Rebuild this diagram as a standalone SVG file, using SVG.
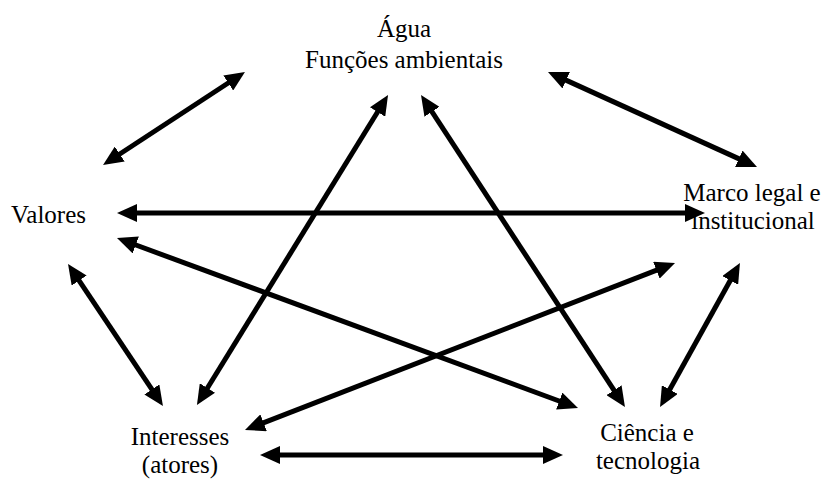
<svg xmlns="http://www.w3.org/2000/svg" width="830" height="479" viewBox="0 0 830 479">
<style>
.t{font-family:"Liberation Serif","Times New Roman",serif;font-size:25px;fill:#000}
.c{text-anchor:middle}
.e{fill:none;stroke:#000;stroke-width:5;marker-start:url(#ah);marker-end:url(#ah)}
</style>
<defs>
<marker id="ah" viewBox="0 0 20 18" refX="10" refY="9" markerWidth="20" markerHeight="18" markerUnits="userSpaceOnUse" orient="auto-start-reverse">
<path d="M0,0 L20,9 L0,18 z" fill="#000"/>
</marker>
</defs>
<rect width="830" height="479" fill="#fff"/>
<g id="agua"><text class="t c" x="404" y="37">Água</text><text class="t c" x="404" y="68">Funções ambientais</text></g>
<g id="valores"><text class="t" x="11" y="223">Valores</text></g>
<g id="marco"><text class="t c" x="752" y="201">Marco legal e</text><text class="t c" x="753" y="229">institucional</text></g>
<g id="interesses"><text class="t c" x="180" y="445">Interesses</text><text class="t c" x="180" y="473">(atores)</text></g>
<g id="ciencia"><text class="t c" x="647" y="441">Ciência e</text><text class="t c" x="648" y="469">tecnologia</text></g>
<g id="connectors">
<path class="e" d="M111.4,159.5 L236.6,77.5"/>
<path class="e" d="M557.1,76.1 L747.9,162.9"/>
<path class="e" d="M127,213 L695,213"/>
<path class="e" d="M126.4,241.5 L568.6,404.5"/>
<path class="e" d="M73.6,272.3 L157.4,397.7"/>
<path class="e" d="M202.2,396.5 L382.8,103.5"/>
<path class="e" d="M426.5,103.4 L619.5,398.6"/>
<path class="e" d="M254.3,426.4 L665.7,266.6"/>
<path class="e" d="M664.9,398.3 L735.1,271.7"/>
<path class="e" d="M270,455 L553,455"/>
</g>
</svg>
